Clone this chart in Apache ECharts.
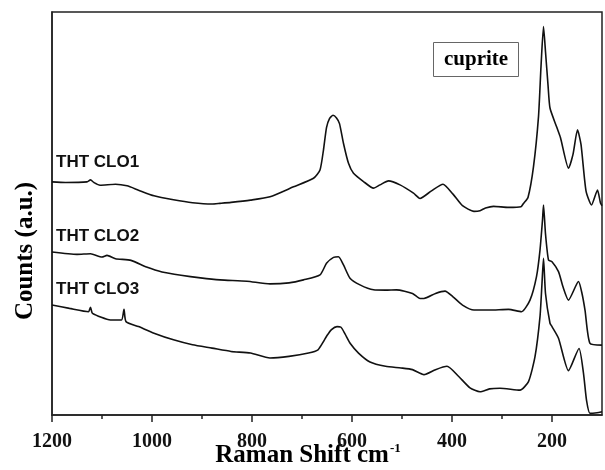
<!DOCTYPE html>
<html>
<head>
<meta charset="utf-8">
<script src="https://cdn.jsdelivr.net/npm/echarts@6/dist/echarts.min.js"></script>
<style>html,body{margin:0;padding:0;background:#fff;}#c{width:605px;height:470px;}</style>
</head>
<body>
<div id="c"></div>
<script>
// Raman shift (cm-1) and counts (a.u., with vertical offsets as in the figure)
const x1 = [1200,1173,1130,1123,1116,1104,1073,1050,1027,996,957,919,880,864,842,803,764,717,677,664,657,651,645,638,631,625,617,607,597,577,557,544,527,504,477,464,441,418,398,379,356,344,333,317,287,262,257,248,237,227,222,217,213,208,204,191,183,167,158,149,142,132,121,109,103,100];
const y1 = [704,702,704,710,702,694,697,692,679,662,650,641,637,639,642,649,659,689,715,740,801,868,895,905,897,880,820,760,730,705,685,695,707,695,670,654,677,697,667,632,615,617,625,630,627,629,639,657,750,901,1052,1173,1097,997,927,871,837,745,787,861,817,677,634,679,640,632];

const x2 = [1200,1150,1123,1100,1090,1073,1042,1011,980,942,903,864,810,764,726,697,664,651,637,627,617,604,584,557,533,511,479,464,456,433,414,398,379,356,325,287,261,244,231,224,219,217,213,207,200,187,178,167,147,140,134,124,100];
const y2 = [492,485,487,477,482,472,467,447,432,422,414,408,404,396,399,408,423,458,476,478,453,413,393,378,377,378,367,352,352,367,374,357,332,317,317,319,312,347,418,498,589,634,547,468,463,433,387,347,403,367,317,216,211];

const x3 = [1200,1165,1127,1123,1119,1083,1061,1056,1052,1027,996,957,919,880,842,803,764,726,687,668,657,650,641,630,622,614,603,587,564,533,502,479,456,433,410,387,364,344,325,304,264,247,234,224,220,217,213,204,200,187,167,146,137,131,124,110,100];
const y3 = [332,322,312,325,307,287,287,319,282,267,247,227,212,202,192,187,172,177,187,197,222,240,258,267,265,245,215,187,160,147,142,137,122,137,147,117,82,70,79,81,75,101,176,297,398,473,367,277,267,232,134,201,126,45,5,7,10];

const seriesNames = ['THT CLO1','THT CLO2','THT CLO3'];
const majorTicks = [1200,1000,800,600,400,200];
const minorTicks = [1100,900,700,500,300];

function pairs(xs, ys){ return xs.map((x,i)=>[x, ys[i]]); }

const chart = echarts.init(document.getElementById('c'), null, {renderer:'canvas'});
const serifBold = {fontFamily:'Liberation Serif', fontWeight:'bold', color:'#000'};
const lineSeries = [[x1,y1],[x2,y2],[x3,y3]].map((d,i)=>({
  name: seriesNames[i], type:'line', data: pairs(d[0], d[1]), xAxisIndex:0,
  showSymbol:false, smooth:0.2,
  lineStyle:{color:'#111', width:1.6}, animation:false
}));

chart.setOption({
  animation:false,
  grid:{left:52, right:3, top:12, bottom:55, containLabel:false, outerBoundsMode:'none', show:true, borderColor:'#222', borderWidth:1.5, backgroundColor:'transparent'},
  title:{text:'cuprite', left:433, top:42, padding:[7,11,7,11], borderColor:'#666', borderWidth:1,
    textStyle:Object.assign({fontSize:21}, serifBold)},
  xAxis:[{
    type:'value', inverse:true, min:100, max:1200,
    axisLine:{show:true, lineStyle:{color:'#222', width:1.5}},
    axisTick:{show:true, length:7, inside:false, customValues:majorTicks, lineStyle:{color:'#222', width:1.5}},
    axisLabel:{show:true, customValues:majorTicks, margin:17, formatter:v=>String(v), fontSize:20, fontFamily:'Liberation Serif', fontWeight:'bold', color:'#111'},
    splitLine:{show:false}
  },{
    type:'value', inverse:true, min:100, max:1200, position:'bottom',
    axisLine:{show:false},
    axisTick:{show:true, length:4, customValues:minorTicks, lineStyle:{color:'#222', width:1.5}},
    axisLabel:{show:false}, splitLine:{show:false}
  }],
  yAxis:{
    type:'value', min:0, max:1217,
    axisLine:{show:true, lineStyle:{color:'#222', width:1.5}},
    axisTick:{show:false}, axisLabel:{show:false}, splitLine:{show:false}
  },
  graphic:[
    {type:'text', x:26, y:251, rotation:Math.PI/2, style:{text:'Counts (a.u.)', font:'bold 25px "Liberation Serif"', fill:'#000', align:'center', verticalAlign:'middle'}},
    {type:'text', x:308, y:456, style:{text:'{a|Raman Shift cm}{s|-1}', align:'center', verticalAlign:'middle',
      rich:{a:{font:'bold 25px "Liberation Serif"', fill:'#000'}, s:{font:'bold 13px "Liberation Serif"', fill:'#000', verticalAlign:'top', padding:[0,0,14,1]}}}},
    {type:'text', left:56, top:154, style:{text:seriesNames[0], font:'bold 17px "Liberation Sans"', fill:'#111'}},
    {type:'text', left:56, top:228, style:{text:seriesNames[1], font:'bold 17px "Liberation Sans"', fill:'#111'}},
    {type:'text', left:56, top:281, style:{text:seriesNames[2], font:'bold 17px "Liberation Sans"', fill:'#111'}}
  ],
  series: lineSeries
});
</script>
</body>
</html>
